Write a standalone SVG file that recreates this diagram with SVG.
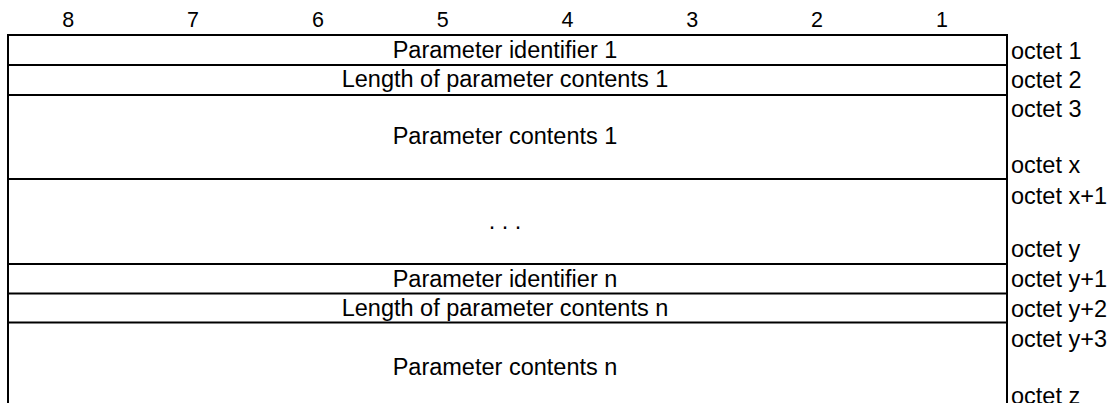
<svg xmlns="http://www.w3.org/2000/svg" width="1109" height="403" viewBox="0 0 1109 403">
<style>
.t{font-family:"Liberation Sans",Arial,sans-serif;font-size:23.5px;fill:#000}
.c{text-anchor:middle}
.n{font-family:"Liberation Sans",Arial,sans-serif;font-size:21.5px;fill:#000;text-anchor:middle}
.l{stroke:#000;stroke-width:2;fill:none}
</style>
<rect width="1109" height="403" fill="#fff"/>
<g id="bits">
<text class="n" x="68.3" y="27">8</text>
<text class="n" x="193.1" y="27">7</text>
<text class="n" x="317.9" y="27">6</text>
<text class="n" x="442.7" y="27">5</text>
<text class="n" x="567.5" y="27">4</text>
<text class="n" x="692.3" y="27">3</text>
<text class="n" x="817.1" y="27">2</text>
<text class="n" x="941.9" y="27">1</text>
</g>
<g id="frame">
<path class="l" d="M8 403V35H1007V403"/>
<path class="l" d="M8 65H1007M8 95H1007M8 179H1007M8 264H1007M8 293.5H1007M8 322.5H1007"/>
</g>
<g id="field-id1"><text class="t c" x="505" y="58">Parameter identifier 1</text></g>
<g id="field-len1"><text class="t c" x="505" y="87">Length of parameter contents 1</text></g>
<g id="field-cont1"><text class="t c" x="505" y="144">Parameter contents 1</text></g>
<g id="field-dots"><text class="t c" x="505" y="229">. . .</text></g>
<g id="field-idn"><text class="t c" x="505" y="287">Parameter identifier n</text></g>
<g id="field-lenn"><text class="t c" x="505" y="316">Length of parameter contents n</text></g>
<g id="field-contn"><text class="t c" x="505" y="375">Parameter contents n</text></g>
<g id="octets">
<text class="t" x="1011" y="58.5">octet 1</text>
<text class="t" x="1011" y="87.5">octet 2</text>
<text class="t" x="1011" y="117">octet 3</text>
<text class="t" x="1011" y="172.5">octet x</text>
<text class="t" x="1011" y="203.5">octet x+1</text>
<text class="t" x="1011" y="257">octet y</text>
<text class="t" x="1011" y="287">octet y+1</text>
<text class="t" x="1011" y="316.5">octet y+2</text>
<text class="t" x="1011" y="346.5">octet y+3</text>
<text class="t" x="1011" y="404">octet z</text>
</g>
</svg>
